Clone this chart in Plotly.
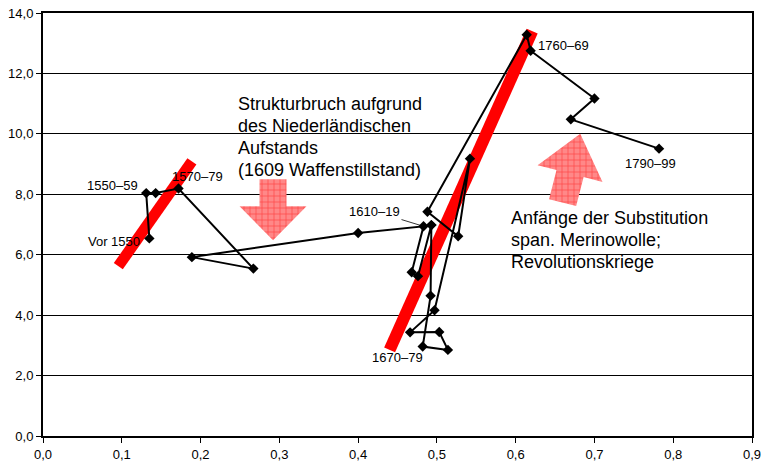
import math
import plotly.graph_objects as go

# Decade labels and the two coordinates of each observation
decades = ["Vor 1550", "1550–59", "1560–69", "1570–79", "1580–89", "1590–99",
           "1600–09", "1610–19", "1620–29", "1630–39", "1640–49", "1650–59",
           "1660–69", "1670–79", "1680–89", "1690–99", "1700–09", "1710–19",
           "1720–29", "1730–39", "1740–49", "1750–59", "1760–69", "1770–79",
           "1780–89", "1790–99"]
x_share = [0.135, 0.131, 0.143, 0.172, 0.267, 0.189,
           0.400, 0.483, 0.468, 0.476, 0.493, 0.493,
           0.492, 0.482, 0.514, 0.503, 0.466, 0.497,
           0.542, 0.527, 0.488, 0.614, 0.619, 0.700,
           0.670, 0.782]
y_value = [6.54, 8.04, 8.04, 8.19, 5.54, 5.92,
           6.72, 6.94, 5.42, 5.29, 6.98, 6.98,
           4.64, 2.96, 2.85, 3.44, 3.43, 4.16,
           9.18, 6.61, 7.42, 13.28, 12.75, 11.17,
           10.48, 9.51]

# Trend bars (start and end of each red segment)
trend_early_x = [0.0956, 0.189]
trend_early_y = [5.62, 9.09]
trend_late_x = [0.440, 0.621]
trend_late_y = [2.85, 13.40]

# Axis setup
X_RANGE = [0, 0.9]
Y_RANGE = [0, 14]
x_ticks = [0.0, 0.1, 0.2, 0.3, 0.4, 0.5, 0.6, 0.7, 0.8, 0.9]
y_ticks = [0, 2, 4, 6, 8, 10, 12, 14]

W, H = 761, 462
M = dict(l=43, r=9, t=13, b=26)
PX_X = (W - M["l"] - M["r"]) / (X_RANGE[1] - X_RANGE[0])
PX_Y = (H - M["t"] - M["b"]) / (Y_RANGE[1] - Y_RANGE[0])


def block_arrow(tip, angle_deg, head_len, head_w, shaft_len, shaft_w):
    """Block arrow polygon in data units; sizes in pixels, angle clockwise from up."""
    a = math.radians(angle_deg)
    ux, uy = math.sin(a), -math.cos(a)          # screen direction base -> tip
    nx, ny = math.cos(a), math.sin(a)
    tx = tip[0] * PX_X
    ty = -tip[1] * PX_Y
    bx, by = tx - ux * head_len, ty - uy * head_len
    pts = [
        (tx, ty),
        (bx + nx * head_w / 2, by + ny * head_w / 2),
        (bx + nx * shaft_w / 2, by + ny * shaft_w / 2),
        (bx + nx * shaft_w / 2 - ux * shaft_len, by + ny * shaft_w / 2 - uy * shaft_len),
        (bx - nx * shaft_w / 2 - ux * shaft_len, by - ny * shaft_w / 2 - uy * shaft_len),
        (bx - nx * shaft_w / 2, by - ny * shaft_w / 2),
        (bx - nx * head_w / 2, by - ny * head_w / 2),
        (tx, ty),
    ]
    return [p[0] / PX_X for p in pts], [-p[1] / PX_Y for p in pts]


fig = go.Figure()

for tx_, ty_, w in [(trend_early_x, trend_early_y, 11), (trend_late_x, trend_late_y, 12)]:
    fig.add_trace(go.Scatter(x=tx_, y=ty_, mode="lines",
                             line=dict(color="#FF0000", width=w),
                             hoverinfo="skip", showlegend=False))

hatch = dict(shape="+", fgcolor="#FF1010", bgcolor="#FF8888", size=6, solidity=0.25)
for spec in [((0.292, 6.48), 180, 34, 67, 27, 27),
             ((0.682, 10.0), 14.4, 41, 67, 30, 28)]:
    ax_, ay_ = block_arrow(*spec)
    fig.add_trace(go.Scatter(x=ax_, y=ay_, mode="lines", fill="toself",
                             fillcolor="#FF8888", fillpattern=hatch,
                             line=dict(width=0, color="rgba(0,0,0,0)"),
                             hoverinfo="skip", showlegend=False))

fig.add_trace(go.Scatter(x=x_share, y=y_value, mode="lines+markers", text=decades,
                         line=dict(color="black", width=2),
                         marker=dict(symbol="diamond", size=8, color="black"),
                         showlegend=False))

lab_font = dict(family="Liberation Sans, Arial", size=13, color="black")
# (decade, x anchor, x shift px, y shift px)
point_labels = [("Vor 1550", "right", -7, -3),
                ("1550–59", "right", -6, 8),
                ("1570–79", "left", -9, 12),
                ("1670–79", "right", 2, -11),
                ("1760–69", "left", 5, 5),
                ("1790–99", "left", -36, -15)]
for name, anchor, dx, dy in point_labels:
    i = decades.index(name)
    fig.add_annotation(x=x_share[i], y=y_value[i], text=name, showarrow=False,
                       xanchor=anchor, yanchor="middle", xshift=dx, yshift=dy,
                       font=lab_font)

i = decades.index("1610–19")
fig.add_annotation(x=x_share[i], y=y_value[i], text="1610–19", showarrow=True,
                   arrowhead=0, arrowwidth=0.8, arrowcolor="black", standoff=3,
                   ax=-49, ay=-15, font=lab_font)

big_font = dict(family="Liberation Sans, Arial", size=18, color="black")
left_note = ["Strukturbruch aufgrund", "des Niederländischen", "Aufstands",
             "(1609 Waffenstillstand)"]
right_note = ["Anfänge der Substitution", "span. Merinowolle;", "Revolutionskriege"]
for lines, x0, y0 in [(left_note, 0.245, 10.99), (right_note, 0.5915, 7.20)]:
    for k, line in enumerate(lines):
        fig.add_annotation(x=x0, y=y0 - k * 22 / PX_Y, text=line, showarrow=False,
                           xanchor="left", yanchor="middle", font=big_font)

axis_common = dict(showline=True, linecolor="black", linewidth=2, mirror=True,
                   ticks="outside", ticklen=5, tickwidth=1, tickcolor="black",
                   zeroline=False, automargin=False, ticklabeloverflow="allow",
                   tickfont=dict(family="Liberation Sans, Arial", size=13, color="black"))
fig.update_xaxes(range=X_RANGE, tickvals=x_ticks, tickformat=".1f",
                 showgrid=False, **axis_common)
fig.update_yaxes(range=Y_RANGE, tickvals=y_ticks, tickformat=".1f",
                 showgrid=True, gridcolor="black", gridwidth=1, **axis_common)

fig.update_layout(width=W, height=H, margin=dict(M, autoexpand=False),
                  separators=",.", paper_bgcolor="white", plot_bgcolor="white")

fig.write_html("out.html")
